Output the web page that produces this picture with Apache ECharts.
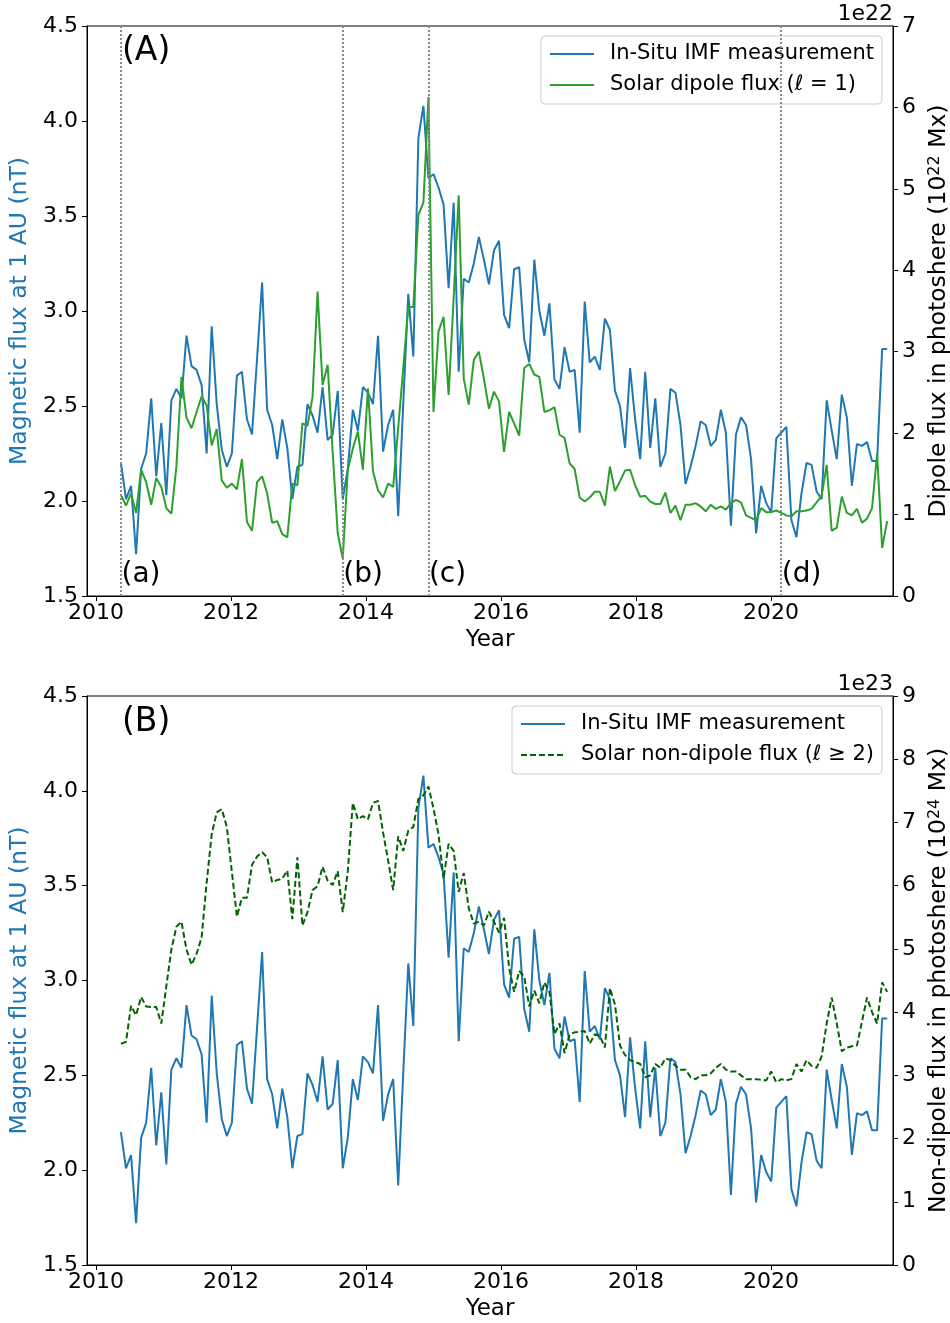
<!DOCTYPE html>
<html><head><meta charset="utf-8">
<script src="https://cdn.jsdelivr.net/npm/echarts@6/dist/echarts.min.js"></script>
<style>html,body{margin:0;padding:0;background:#fff}#c{width:950px;height:1323px}</style>
</head><body><div id="c"></div>
<script>
// In-situ IMF magnetic flux at 1 AU (nT), one value per Carrington rotation
const imf = [2.20,2.01,2.08,1.72,2.17,2.25,2.54,2.13,2.41,2.03,2.53,2.59,2.54,2.87,2.71,2.69,2.61,2.25,2.92,2.51,
2.27,2.18,2.25,2.66,2.68,2.43,2.35,2.75,3.15,2.48,2.40,2.22,2.43,2.28,2.01,2.18,2.19,2.51,2.45,2.36,
2.60,2.32,2.35,2.58,2.01,2.17,2.48,2.37,2.60,2.57,2.51,2.87,2.26,2.40,2.48,1.92,2.51,3.09,2.76,3.91,
4.08,3.70,3.72,3.65,3.56,3.12,3.57,2.68,3.17,3.15,3.25,3.39,3.27,3.14,3.32,3.37,2.98,2.91,3.22,3.23,
2.85,2.73,3.27,3.00,2.87,3.04,2.64,2.59,2.81,2.68,2.69,2.36,3.05,2.73,2.76,2.69,2.96,2.90,2.58,2.50,
2.28,2.70,2.43,2.22,2.68,2.28,2.54,2.18,2.25,2.59,2.57,2.40,2.09,2.18,2.29,2.42,2.40,2.29,2.32,2.48,
2.36,1.87,2.35,2.44,2.40,2.22,1.83,2.08,1.99,1.94,2.33,2.36,2.39,1.90,1.81,2.04,2.20,2.19,2.05,2.01,
2.53,2.37,2.22,2.56,2.44,2.08,2.30,2.29,2.31,2.21,2.21,2.80,2.80];
// Solar dipole flux (units of 1e22 Mx)
const dipole = [1.24,1.11,1.26,1.02,1.55,1.40,1.12,1.45,1.34,1.08,1.01,1.59,2.69,2.19,2.06,2.26,2.45,2.34,1.85,2.05,
1.42,1.33,1.38,1.31,1.68,0.91,0.80,1.40,1.47,1.26,0.90,0.92,0.76,0.72,1.38,1.36,2.12,2.09,2.44,3.74,
2.59,2.84,1.77,0.77,0.46,1.55,1.81,2.02,1.55,2.55,1.53,1.30,1.21,1.38,1.34,2.06,2.80,3.55,3.55,4.68,
4.83,6.13,2.26,3.25,3.43,2.47,3.66,4.92,2.67,2.35,2.90,3.00,2.67,2.30,2.51,2.39,1.77,2.26,2.12,1.97,
2.80,2.85,2.72,2.69,2.26,2.28,2.32,1.98,1.94,1.63,1.56,1.21,1.16,1.21,1.28,1.28,1.11,1.59,1.29,1.41,
1.54,1.55,1.36,1.22,1.23,1.16,1.13,1.13,1.27,1.02,1.11,0.93,1.12,1.12,1.14,1.10,1.04,1.12,1.07,1.10,
1.06,1.14,1.18,1.15,0.99,0.96,0.93,1.08,1.03,1.03,1.05,1.02,0.99,0.98,1.04,1.04,1.05,1.07,1.15,1.23,
1.61,0.80,0.84,1.22,1.02,0.99,1.07,0.90,0.95,1.08,1.75,0.59,0.92];
// Solar non-dipole flux (units of 1e23 Mx)
const nonDipole = [3.50,3.53,4.10,3.95,4.24,4.09,4.08,4.08,3.82,4.41,4.99,5.35,5.43,4.99,4.75,4.92,5.18,6.05,6.81,7.16,
7.21,6.93,6.22,5.51,5.81,5.81,6.33,6.46,6.53,6.45,6.05,6.09,6.11,6.24,5.47,6.45,5.37,5.58,5.93,5.99,
6.30,6.08,6.01,6.23,5.58,6.23,7.31,7.05,7.10,7.05,7.31,7.34,6.84,6.40,5.93,6.78,6.55,6.87,6.93,7.37,
7.43,7.57,7.22,6.81,6.11,6.66,6.55,5.90,6.20,5.64,5.40,5.43,5.37,5.59,5.43,5.26,5.49,4.70,4.32,4.65,
4.56,4.09,4.34,4.14,4.47,4.32,3.65,3.82,3.35,3.65,3.68,3.69,3.70,3.50,3.65,3.62,3.44,4.38,4.12,3.47,
3.32,3.24,3.21,3.18,2.97,3.00,3.18,3.12,3.27,3.24,3.15,3.09,3.09,2.97,2.94,3.00,3.00,3.03,3.12,3.18,
3.09,3.06,3.06,3.00,2.94,2.94,2.94,2.93,2.92,3.06,2.89,2.94,2.92,2.94,3.18,3.06,3.24,3.15,3.12,3.30,
3.82,4.23,3.82,3.38,3.44,3.46,3.47,3.85,4.23,4.00,3.82,4.47,4.32];
// event markers (index of rotation) and their labels
const eventIdx = [0, 44, 61, 131];
const eventLabels = ['(a)', '(b)', '(c)', '(d)'];
const xTicks = [2010, 2012, 2014, 2016, 2018, 2020];
// time axis: one sample per Carrington rotation starting mid-2010
const firstYear = 2010.37;
const rotationYears = 27.2753 / 365.25;
const years = imf.map((_, i) => +(firstYear + i * rotationYears).toFixed(4));

const FONT = 'DejaVu Sans';
const BLUE = '#1f77b4', GREEN = '#2ca02c', DGREEN = '#006400';
const pair = arr => arr.map((v, i) => [years[i], v]);

function xAxisCfg(gi) {
  return {
    type: 'value', gridIndex: gi, min: 2009.867, max: 2021.807,
    axisLine: {show: true, onZero: false, lineStyle: {color: '#000', width: 1}},
    axisTick: {show: true, length: 5, customValues: xTicks, lineStyle: {color: '#000'}},
    axisLabel: {customValues: xTicks, fontSize: 22, color: '#000', fontFamily: FONT, margin: 6,
      formatter: v => String(Math.round(v))},
    splitLine: {show: false},
    name: 'Year', nameLocation: 'middle', nameGap: 33,
    nameTextStyle: {fontSize: 23, color: '#000', fontFamily: FONT}
  };
}
function leftY(gi) {
  return {
    type: 'value', gridIndex: gi, position: 'left', min: 1.5, max: 4.5, interval: 0.5,
    axisLine: {show: true, lineStyle: {color: '#000'}},
    axisTick: {show: true, length: 5, lineStyle: {color: '#000'}},
    axisLabel: {fontSize: 22, color: '#000', fontFamily: FONT, margin: 9, formatter: v => v.toFixed(1)},
    splitLine: {show: false},
    name: 'Magnetic flux at 1 AU (nT)', nameLocation: 'middle', nameRotate: 90, nameGap: 52,
    nameTextStyle: {fontSize: 23.5, color: BLUE, fontFamily: FONT}
  };
}
function rightY(gi, max, name) {
  return {
    type: 'value', gridIndex: gi, position: 'right', min: 0, max: max, interval: 1,
    axisLine: {show: true, lineStyle: {color: '#000'}},
    axisTick: {show: true, length: 5, lineStyle: {color: '#000'}},
    axisLabel: {fontSize: 22, color: '#000', fontFamily: FONT, margin: 9},
    splitLine: {show: false},
    name: name, nameLocation: 'middle', nameRotate: 90, nameGap: 28,
    nameTextStyle: {fontSize: 23.5, color: '#000', fontFamily: FONT,
      rich: {sup: {fontSize: 16, fontFamily: FONT, color: '#000', verticalAlign: 'top', lineHeight: 23}}}
  };
}
function legendCfg(top, data) {
  return {
    top: top, right: 68, orient: 'vertical', itemWidth: 44, itemHeight: 14, itemGap: 7,
    padding: [6, 8, 7, 8], backgroundColor: 'rgba(255,255,255,0.8)', borderColor: '#cccccc',
    borderWidth: 1, borderRadius: 4,
    itemStyle: {opacity: 0},
    textStyle: {fontSize: 21, color: '#000', fontFamily: FONT, lineHeight: 24, padding: [0, 0, 0, 11]},
    data: data
  };
}

const chart = echarts.init(document.getElementById('c'), null, {renderer: 'canvas'});
chart.setOption({
  animation: false,
  backgroundColor: '#fff',
  textStyle: {fontFamily: FONT},
  grid: [
    {left: 87, top: 26, width: 806, height: 570, containLabel: false, outerBoundsMode: 'none',
      show: true, borderColor: '#000', borderWidth: 1, backgroundColor: 'transparent'},
    {left: 87, top: 696, width: 806, height: 569, containLabel: false, outerBoundsMode: 'none',
      show: true, borderColor: '#000', borderWidth: 1, backgroundColor: 'transparent'}
  ],
  xAxis: [xAxisCfg(0), xAxisCfg(1)],
  yAxis: [
    leftY(0),
    rightY(0, 7, 'Dipole flux in photoshere (10{sup|22} Mx)'),
    leftY(1),
    rightY(1, 9, 'Non-dipole flux in photoshere (10{sup|24} Mx)')
  ],
  legend: [
    legendCfg(36, ['In-Situ IMF measurement', 'Solar dipole flux (ℓ = 1)']),
    legendCfg(706, ['In-Situ IMF measurement', 'Solar non-dipole flux (ℓ ≥ 2)'])
  ],
  graphic: [
    {type: 'text', x: 122, y: 51, style: {text: '(A)', fontSize: 33, fontFamily: FONT, fill: '#000', verticalAlign: 'middle'}},
    {type: 'text', x: 122, y: 722, style: {text: '(B)', fontSize: 33, fontFamily: FONT, fill: '#000', verticalAlign: 'middle'}},
    {type: 'text', x: 893, y: 14, style: {text: '1e22', fontSize: 22, fontFamily: FONT, fill: '#000', align: 'right', verticalAlign: 'middle'}},
    {type: 'text', x: 893, y: 684, style: {text: '1e23', fontSize: 22, fontFamily: FONT, fill: '#000', align: 'right', verticalAlign: 'middle'}}
  ],
  series: [
    {
      name: 'In-Situ IMF measurement', type: 'line', xAxisIndex: 0, yAxisIndex: 0,
      data: pair(imf), symbol: 'none', lineStyle: {color: BLUE, width: 2}, itemStyle: {color: BLUE}, z: 2,
      markLine: {
        silent: true, symbol: ['none', 'none'], animation: false,
        label: {show: false},
        lineStyle: {type: [2, 2], color: '#8c8c8c', width: 2},
        data: eventIdx.map(i => ({xAxis: years[i]}))
      }
    },
    {
      name: 'Solar dipole flux (ℓ = 1)', type: 'line', xAxisIndex: 0, yAxisIndex: 1,
      data: pair(dipole), symbol: 'none', lineStyle: {color: GREEN, width: 2}, itemStyle: {color: GREEN}, z: 3
    },
    {
      name: 'events', type: 'scatter', xAxisIndex: 0, yAxisIndex: 0, symbolSize: 1,
      itemStyle: {color: 'rgba(0,0,0,0)'}, silent: true, z: 4,
      label: {show: true, position: 'right', distance: 0, fontSize: 28, color: '#000', opacity: 1,
        textBorderWidth: 0, fontFamily: FONT, formatter: p => eventLabels[p.dataIndex]},
      data: eventIdx.map(i => [years[i], 1.61])
    },
    {
      name: 'In-Situ IMF measurement', type: 'line', xAxisIndex: 1, yAxisIndex: 2,
      data: pair(imf), symbol: 'none', lineStyle: {color: BLUE, width: 2}, itemStyle: {color: BLUE}, z: 2
    },
    {
      name: 'Solar non-dipole flux (ℓ ≥ 2)', type: 'line', xAxisIndex: 1, yAxisIndex: 3,
      data: pair(nonDipole), symbol: 'none', lineStyle: {color: DGREEN, width: 2, type: [6, 3]}, itemStyle: {color: DGREEN}, z: 3
    }
  ]
});
</script></body></html>
